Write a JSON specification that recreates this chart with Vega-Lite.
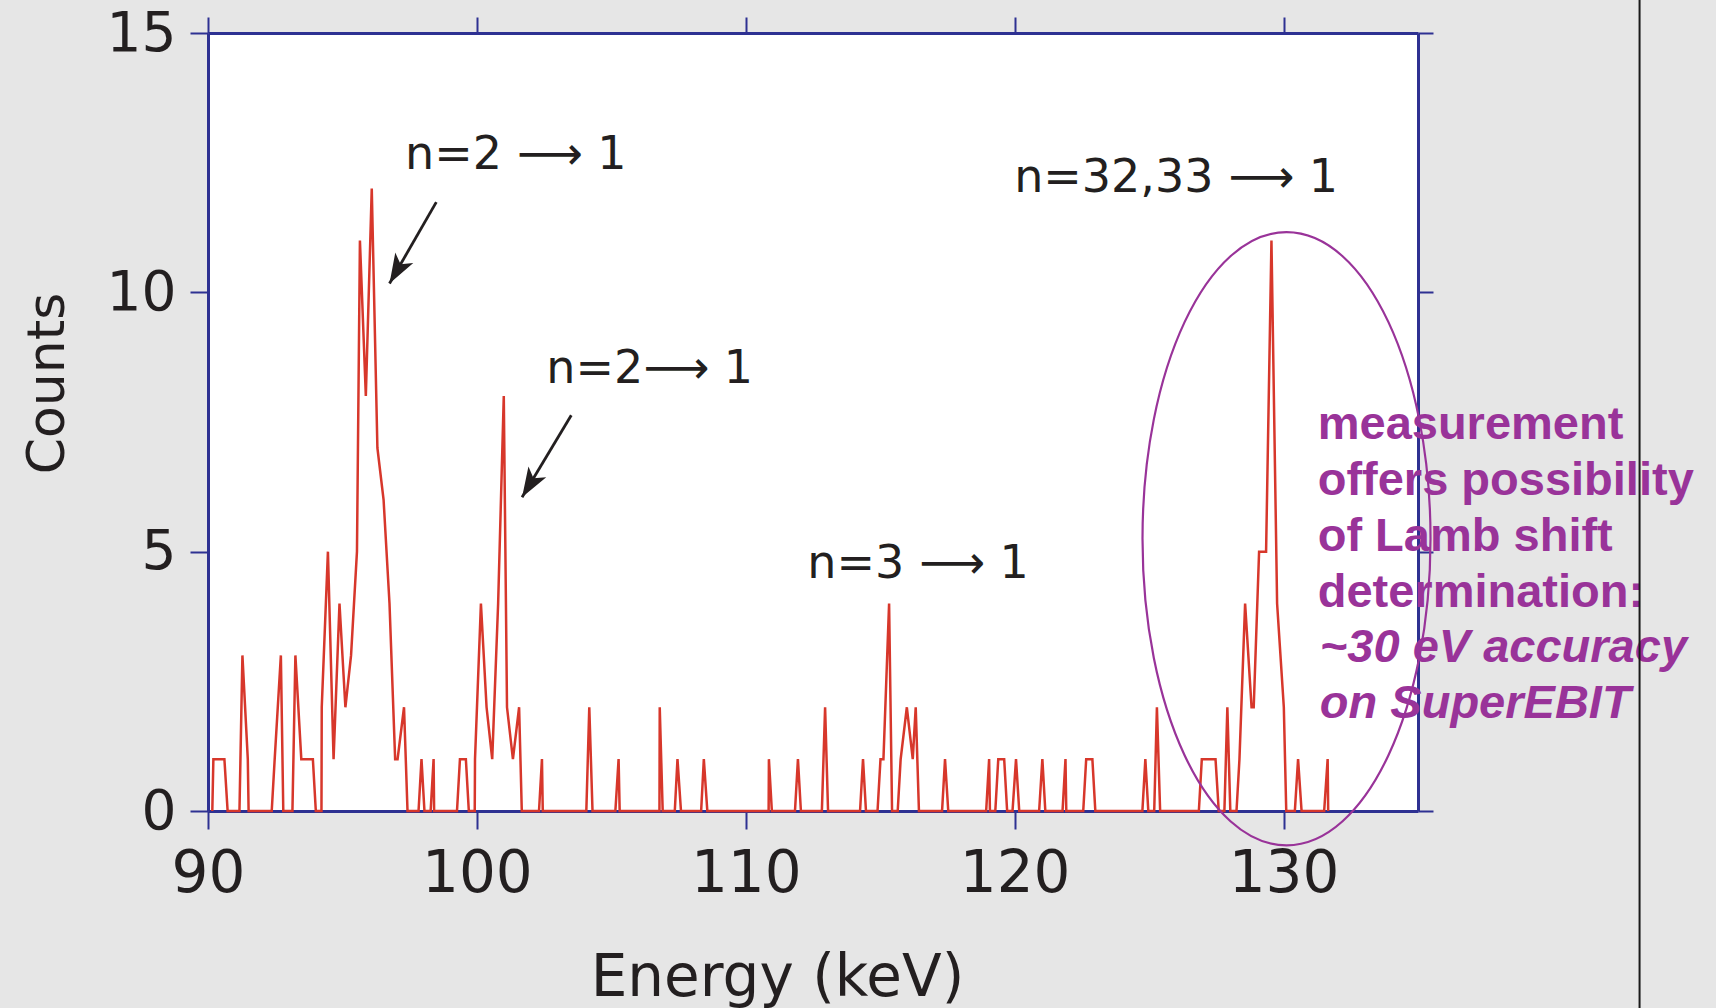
{
  "$schema": "https://vega.github.io/schema/vega-lite/v6.json",
  "width": 1210,
  "height": 778,
  "autosize": {"type": "none"},
  "padding": {"left": 208, "top": 33, "right": 298, "bottom": 197},
  "background": "#e6e6e6",
  "config": {
    "view": {"fill": "white", "stroke": null},
    "axis": {"grid": false, "zindex": 1, "domainColor": "#2e3192", "domainWidth": 3, "tickColor": "#2e3192", "tickWidth": 2, "labelColor": "#231f20", "titleColor": "#231f20", "labelFont": "DejaVu Sans", "titleFont": "DejaVu Sans", "titleFontWeight": "normal", "labelOverlap": false, "labelFlush": false}
  },
  "resolve": {"axis": {"x": "independent", "y": "independent"}},
  "datasets": {
    "spectrum": [
      {"energy": 90.16, "counts": 0}, {"energy": 90.2, "counts": 1}, {"energy": 90.61, "counts": 1}, {"energy": 90.73, "counts": 0},
      {"energy": 91.17, "counts": 0}, {"energy": 91.28, "counts": 3}, {"energy": 91.48, "counts": 1}, {"energy": 91.51, "counts": 0},
      {"energy": 92.37, "counts": 0}, {"energy": 92.48, "counts": 1}, {"energy": 92.71, "counts": 3}, {"energy": 92.8, "counts": 0},
      {"energy": 93.14, "counts": 0}, {"energy": 93.25, "counts": 3}, {"energy": 93.47, "counts": 1}, {"energy": 93.9, "counts": 1}, {"energy": 94.01, "counts": 0},
      {"energy": 94.22, "counts": 0}, {"energy": 94.23, "counts": 2}, {"energy": 94.46, "counts": 5}, {"energy": 94.67, "counts": 1}, {"energy": 94.89, "counts": 4},
      {"energy": 95.11, "counts": 2}, {"energy": 95.32, "counts": 3}, {"energy": 95.54, "counts": 5}, {"energy": 95.65, "counts": 11}, {"energy": 95.87, "counts": 8},
      {"energy": 96.09, "counts": 12}, {"energy": 96.3, "counts": 7}, {"energy": 96.53, "counts": 6}, {"energy": 96.75, "counts": 4}, {"energy": 96.96, "counts": 1},
      {"energy": 97.05, "counts": 1}, {"energy": 97.29, "counts": 2}, {"energy": 97.42, "counts": 0},
      {"energy": 97.83, "counts": 0}, {"energy": 97.94, "counts": 1}, {"energy": 98.05, "counts": 0},
      {"energy": 98.28, "counts": 0}, {"energy": 98.39, "counts": 1}, {"energy": 98.41, "counts": 0},
      {"energy": 99.26, "counts": 0}, {"energy": 99.37, "counts": 1}, {"energy": 99.59, "counts": 1}, {"energy": 99.7, "counts": 0},
      {"energy": 99.92, "counts": 0}, {"energy": 99.93, "counts": 1}, {"energy": 100.15, "counts": 4}, {"energy": 100.36, "counts": 2}, {"energy": 100.57, "counts": 1},
      {"energy": 100.79, "counts": 4}, {"energy": 101.0, "counts": 8}, {"energy": 101.12, "counts": 2}, {"energy": 101.34, "counts": 1}, {"energy": 101.57, "counts": 2}, {"energy": 101.67, "counts": 0},
      {"energy": 102.31, "counts": 0}, {"energy": 102.42, "counts": 1}, {"energy": 102.45, "counts": 0},
      {"energy": 104.07, "counts": 0}, {"energy": 104.18, "counts": 2}, {"energy": 104.3, "counts": 0},
      {"energy": 105.15, "counts": 0}, {"energy": 105.27, "counts": 1}, {"energy": 105.31, "counts": 0},
      {"energy": 106.79, "counts": 0}, {"energy": 106.8, "counts": 2}, {"energy": 106.91, "counts": 0},
      {"energy": 107.36, "counts": 0}, {"energy": 107.46, "counts": 1}, {"energy": 107.59, "counts": 0},
      {"energy": 108.34, "counts": 0}, {"energy": 108.44, "counts": 1}, {"energy": 108.57, "counts": 0},
      {"energy": 110.85, "counts": 0}, {"energy": 110.86, "counts": 1}, {"energy": 110.97, "counts": 0},
      {"energy": 111.83, "counts": 0}, {"energy": 111.94, "counts": 1}, {"energy": 112.05, "counts": 0},
      {"energy": 112.83, "counts": 0}, {"energy": 112.95, "counts": 2}, {"energy": 113.06, "counts": 0},
      {"energy": 114.25, "counts": 0}, {"energy": 114.36, "counts": 1}, {"energy": 114.47, "counts": 0},
      {"energy": 114.9, "counts": 0}, {"energy": 115.01, "counts": 1}, {"energy": 115.12, "counts": 1}, {"energy": 115.33, "counts": 4}, {"energy": 115.44, "counts": 0},
      {"energy": 115.65, "counts": 0}, {"energy": 115.76, "counts": 1}, {"energy": 115.99, "counts": 2}, {"energy": 116.21, "counts": 1}, {"energy": 116.32, "counts": 2}, {"energy": 116.44, "counts": 0},
      {"energy": 117.3, "counts": 0}, {"energy": 117.41, "counts": 1}, {"energy": 117.53, "counts": 0},
      {"energy": 118.94, "counts": 0}, {"energy": 119.05, "counts": 1}, {"energy": 119.08, "counts": 0},
      {"energy": 119.28, "counts": 0}, {"energy": 119.39, "counts": 1}, {"energy": 119.61, "counts": 1}, {"energy": 119.72, "counts": 0},
      {"energy": 119.92, "counts": 0}, {"energy": 120.05, "counts": 1}, {"energy": 120.17, "counts": 0},
      {"energy": 120.91, "counts": 0}, {"energy": 121.03, "counts": 1}, {"energy": 121.14, "counts": 0},
      {"energy": 121.78, "counts": 0}, {"energy": 121.89, "counts": 1}, {"energy": 121.92, "counts": 0},
      {"energy": 122.55, "counts": 0}, {"energy": 122.66, "counts": 1}, {"energy": 122.89, "counts": 1}, {"energy": 123.0, "counts": 0},
      {"energy": 124.75, "counts": 0}, {"energy": 124.86, "counts": 1}, {"energy": 124.97, "counts": 0},
      {"energy": 125.19, "counts": 0}, {"energy": 125.29, "counts": 2}, {"energy": 125.41, "counts": 0},
      {"energy": 126.85, "counts": 0}, {"energy": 126.96, "counts": 1}, {"energy": 127.47, "counts": 1}, {"energy": 127.59, "counts": 0},
      {"energy": 127.8, "counts": 0}, {"energy": 127.91, "counts": 2}, {"energy": 128.02, "counts": 0},
      {"energy": 128.25, "counts": 0}, {"energy": 128.36, "counts": 1}, {"energy": 128.57, "counts": 4}, {"energy": 128.81, "counts": 2}, {"energy": 128.89, "counts": 2},
      {"energy": 129.09, "counts": 5}, {"energy": 129.35, "counts": 5}, {"energy": 129.55, "counts": 11}, {"energy": 129.76, "counts": 4}, {"energy": 130.01, "counts": 2}, {"energy": 130.1, "counts": 0},
      {"energy": 130.42, "counts": 0}, {"energy": 130.54, "counts": 1}, {"energy": 130.67, "counts": 0},
      {"energy": 131.51, "counts": 0}, {"energy": 131.64, "counts": 1}, {"energy": 131.66, "counts": 0}
    ],
    "lines": [
      {"label": "n=2 ⟶ 1", "energy": 97.33, "counts": 12.38},
      {"label": "n=2⟶ 1", "energy": 102.58, "counts": 8.25},
      {"label": "n=3 ⟶ 1", "energy": 112.29, "counts": 4.49},
      {"label": "n=32,33 ⟶ 1", "energy": 119.98, "counts": 11.94}
    ],
    "arrows": [
      {"x": 98.49, "y": 11.74, "tipx": 96.75, "tipy": 10.17, "angle": 209.9},
      {"x": 103.51, "y": 7.63, "tipx": 101.68, "tipy": 6.05, "angle": 211}
    ],
    "note": [
      {"text": "measurement", "energy": 131.27, "counts": 7.17, "italic": false},
      {"text": "offers possibility", "energy": 131.27, "counts": 6.1, "italic": false},
      {"text": "of Lamb shift", "energy": 131.27, "counts": 5.02, "italic": false},
      {"text": "determination:", "energy": 131.27, "counts": 3.94, "italic": false},
      {"text": "~30 eV accuracy", "energy": 131.35, "counts": 2.87, "italic": true},
      {"text": "on SuperEBIT", "energy": 131.35, "counts": 1.79, "italic": true}
    ],
    "highlight": [{"energy": 130.11, "counts": 5.25}],
    "border": [{"energy": 143.24, "top": 15.7, "bottom": -3.8}]
  },
  "layer": [
    {
      "data": {"name": "spectrum"},
      "mark": {"type": "line", "color": "#d7372b", "strokeWidth": 2.5},
      "encoding": {
        "x": {
          "field": "energy", "type": "quantitative",
          "scale": {"domain": [90, 135], "nice": false, "zero": false},
          "axis": {"orient": "bottom", "values": [90, 100, 110, 120, 130], "tickSize": 18, "labelFontSize": 58, "labelPadding": 16,
                   "title": "Energy (keV)", "titleFontSize": 58, "titleX": 569, "titleY": 184, "titleBaseline": "alphabetic", "titleAlign": "center"}
        },
        "y": {
          "field": "counts", "type": "quantitative",
          "scale": {"domain": [0, 15], "nice": false, "zero": false},
          "axis": {"orient": "left", "values": [0, 5, 10, 15], "tickSize": 18, "labelFontSize": 55, "labelPadding": 14,
                   "title": "Counts", "titleFontSize": 52, "titleX": -144.5, "titleY": 350, "titleAngle": 270, "titleBaseline": "alphabetic", "titleAlign": "center"}
        }
      }
    },
    {
      "data": {"name": "highlight"},
      "mark": {
        "type": "point", "filled": false, "color": "#993399", "strokeWidth": 2.2, "opacity": 1, "size": 376000,
        "shape": "M 0,-1 C 0.2594,-1 0.4697,-0.5523 0.4697,0 C 0.4697,0.5523 0.2594,1 0,1 C -0.2594,1 -0.4697,0.5523 -0.4697,0 C -0.4697,-0.5523 -0.2594,-1 0,-1 Z"
      },
      "encoding": {
        "x": {"field": "energy", "type": "quantitative",
              "axis": {"orient": "top", "values": [90, 100, 110, 120, 130], "tickSize": 16, "labels": false, "title": null}},
        "y": {"field": "counts", "type": "quantitative",
              "axis": {"orient": "right", "values": [0, 5, 10, 15], "tickSize": 15, "labels": false, "title": null}}
      }
    },
    {
      "data": {"name": "lines"},
      "mark": {"type": "text", "align": "left", "baseline": "alphabetic", "font": "DejaVu Sans", "fontSize": 46, "color": "#231f20"},
      "encoding": {
        "x": {"field": "energy", "type": "quantitative", "axis": null},
        "y": {"field": "counts", "type": "quantitative", "axis": null},
        "text": {"field": "label"}
      }
    },
    {
      "data": {"name": "arrows"},
      "mark": {"type": "rule", "color": "#231f20", "strokeWidth": 2.8},
      "encoding": {
        "x": {"field": "x", "type": "quantitative", "axis": null},
        "y": {"field": "y", "type": "quantitative", "axis": null},
        "x2": {"field": "tipx"},
        "y2": {"field": "tipy"}
      }
    },
    {
      "data": {"name": "arrows"},
      "mark": {"type": "point", "filled": true, "color": "#231f20", "opacity": 1, "size": 880, "shape": "M 0,0 L 0.7,2 L 0,1.5 L -0.7,2 Z"},
      "encoding": {
        "x": {"field": "tipx", "type": "quantitative", "axis": null},
        "y": {"field": "tipy", "type": "quantitative", "axis": null},
        "angle": {"field": "angle", "type": "quantitative", "scale": null}
      }
    },
    {
      "data": {"name": "note"},
      "transform": [{"filter": "!datum.italic"}],
      "mark": {"type": "text", "align": "left", "baseline": "alphabetic", "font": "Liberation Sans", "fontWeight": "bold", "fontSize": 47, "color": "#993399"},
      "encoding": {
        "x": {"field": "energy", "type": "quantitative", "axis": null},
        "y": {"field": "counts", "type": "quantitative", "axis": null},
        "text": {"field": "text"}
      }
    },
    {
      "data": {"name": "note"},
      "transform": [{"filter": "datum.italic"}],
      "mark": {"type": "text", "align": "left", "baseline": "alphabetic", "font": "Liberation Sans", "fontWeight": "bold", "fontStyle": "italic", "fontSize": 47, "color": "#993399"},
      "encoding": {
        "x": {"field": "energy", "type": "quantitative", "axis": null},
        "y": {"field": "counts", "type": "quantitative", "axis": null},
        "text": {"field": "text"}
      }
    },
    {
      "data": {"name": "border"},
      "mark": {"type": "rule", "color": "#1a1a1a", "strokeWidth": 2},
      "encoding": {
        "x": {"field": "energy", "type": "quantitative", "axis": null},
        "y": {"field": "top", "type": "quantitative", "axis": null},
        "y2": {"field": "bottom"}
      }
    }
  ]
}
